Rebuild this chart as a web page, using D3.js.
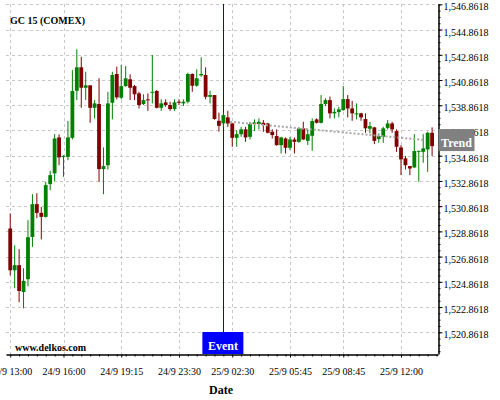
<!DOCTYPE html>
<html><head><meta charset="utf-8">
<script src="https://cdn.jsdelivr.net/npm/d3@7"></script>
<style>
body{margin:0;background:#fff}
svg{display:block}
text{font-family:"Liberation Serif","Times New Roman",serif}
</style>
</head><body>
<svg id="c" width="500" height="400"></svg>
<script>
const title = "GC 15 (COMEX)";
const opens = [1529.09,1525.78,1526.18,1524.06,1525.07,1528.42,1531.02,1530.33,1530.01,1532.61,
1533.46,1536.31,1534.75,1534.77,1536.28,1540.01,1541.87,1540.25,1540.44,1538.66,
1538.96,1533.80,1534.11,1539.06,1541.34,1539.46,1540.38,1540.92,1540.38,1539.80,
1538.96,1539.33,1539.85,1539.99,1538.66,1539.09,1538.88,1538.56,1539.14,1539.01,
1539.14,1541.34,1540.41,1541.23,1541.26,1539.53,1539.67,1537.63,1537.42,1537.90,
1537.42,1536.28,1536.57,1536.95,1536.36,1537.37,1537.37,1537.47,1537.42,1536.76,
1536.42,1535.70,1536.23,1535.49,1536.15,1535.96,1537.03,1536.04,1536.44,1537.74,
1537.47,1538.96,1539.27,1538.22,1538.32,1538.48,1539.35,1538.61,1538.14,1538.22,
1537.77,1537.00,1537.11,1536.18,1536.36,1537.07,1537.42,1536.81,1535.52,1534.65,
1534.04,1533.93,1535.17,1535.17,1535.36,1536.68];
const highs = [1530.28,1527.76,1527.45,1525.94,1529.75,1531.81,1531.89,1530.80,1532.79,1533.66,
1536.57,1536.55,1534.91,1537.61,1541.65,1543.30,1542.71,1541.52,1540.44,1539.27,
1541.00,1535.52,1539.93,1541.52,1541.92,1542.05,1541.97,1541.31,1540.46,1539.93,
1539.73,1539.80,1542.85,1540.07,1539.33,1539.33,1539.14,1539.33,1539.33,1539.33,
1541.44,1541.39,1541.71,1542.66,1541.87,1540.01,1539.67,1538.28,1538.27,1538.42,
1537.47,1536.89,1537.15,1537.15,1537.55,1537.74,1537.82,1537.69,1537.47,1536.95,
1536.95,1536.36,1536.31,1536.36,1536.31,1537.11,1537.55,1536.95,1537.82,1537.82,
1539.67,1539.41,1539.55,1538.61,1538.74,1540.38,1539.67,1539.22,1539.01,1538.27,
1538.22,1537.55,1537.15,1536.63,1537.15,1537.69,1537.55,1536.95,1535.70,1534.83,
1534.04,1536.57,1535.25,1536.57,1536.76,1537.11];
const lows = [1525.38,1524.35,1523.24,1522.76,1524.51,1527.63,1529.91,1528.22,1529.95,1532.13,
1532.84,1534.11,1533.19,1534.51,1536.15,1539.27,1538.66,1539.27,1537.47,1537.82,
1532.79,1531.81,1533.77,1537.74,1539.33,1539.33,1540.33,1539.27,1539.27,1538.61,
1538.88,1538.42,1539.01,1538.61,1538.42,1538.74,1538.42,1538.42,1538.88,1538.80,
1539.01,1539.93,1540.33,1541.12,1539.33,1539.01,1537.72,1536.77,1537.15,1537.15,
1535.57,1535.57,1536.36,1535.96,1536.15,1536.81,1536.95,1536.76,1536.63,1536.23,
1535.66,1535.04,1535.04,1535.31,1535.04,1535.88,1536.10,1535.70,1535.25,1537.42,
1537.42,1538.80,1537.82,1537.82,1537.90,1538.42,1537.90,1537.63,1537.74,1537.63,
1536.68,1536.63,1535.78,1535.88,1535.88,1536.95,1536.68,1535.17,1533.32,1533.77,
1533.32,1533.88,1532.79,1534.30,1533.58,1534.83];
const closes = [1525.78,1526.18,1524.14,1524.93,1528.40,1531.02,1530.33,1530.01,1532.53,1533.32,
1536.23,1534.73,1534.83,1536.31,1539.99,1541.87,1540.25,1540.44,1538.66,1539.01,
1533.80,1534.04,1539.01,1541.26,1539.49,1540.38,1541.00,1540.25,1539.73,1538.88,
1539.27,1539.27,1539.93,1538.66,1539.01,1538.88,1538.56,1539.09,1539.06,1539.14,
1541.34,1540.41,1541.00,1541.34,1539.53,1539.67,1537.77,1537.23,1538.08,1537.42,
1536.28,1536.57,1536.95,1536.31,1537.37,1537.50,1537.55,1537.29,1536.68,1536.50,
1535.70,1536.31,1535.49,1536.15,1535.96,1537.03,1536.15,1536.57,1537.61,1537.47,
1538.96,1539.27,1538.22,1538.34,1538.54,1539.35,1538.61,1538.22,1538.22,1537.90,
1537.03,1537.21,1536.04,1536.42,1537.03,1537.42,1536.95,1535.57,1534.57,1534.11,
1533.85,1535.23,1535.25,1535.44,1536.68,1535.62];
const xTickIndex = [0,12,25,38,50,63,75,88];
const xTickLabels = ["24/9 13:00","24/9 16:00","24/9 19:15","24/9 23:30","25/9 02:30","25/9 05:45","25/9 08:45","25/9 12:00"];
const yTicks = [1520.8618,1522.8618,1524.8618,1526.8618,1528.8618,1530.8618,1532.8618,1534.8618,1536.8618,1538.8618,1540.8618,1542.8618,1544.8618,1546.8618];
const eventIndex = 48;
const eventLabel = "Event";
const trendIdx = [49.5, 93.4];
const trendVal = [1537.55, 1536.10];
const trendLabel = "Trend";
const xTitle = "Date";
const watermark = "www.delkos.com";

const svg = d3.select("#c");
const L = 6, R = 438, T = 4, B = 354;
const n = opens.length;
const x = d3.scaleLinear().domain([-0.95, 96.33]).range([L, R]);
const y = d3.scaleLinear().domain([1519.14, 1546.89]).range([B, T]);
const bw = 3.8;

// grid
const grid = svg.append("g").attr("stroke","#c8c8c8").attr("stroke-dasharray","3,3").attr("stroke-width",1);
yTicks.forEach(v => grid.append("line").attr("x1",L).attr("x2",R).attr("y1",Math.round(y(v))+0.5).attr("y2",Math.round(y(v))+0.5));
xTickIndex.forEach(i => grid.append("line").attr("x1",Math.round(x(i))+0.5).attr("x2",Math.round(x(i))+0.5).attr("y1",T).attr("y2",B));

// event line
svg.append("line").attr("x1",Math.round(x(eventIndex))+0.5).attr("x2",Math.round(x(eventIndex))+0.5)
  .attr("y1",T).attr("y2",332).attr("stroke","#0000ff").attr("stroke-width",1);

// candles
const idx = d3.range(n);
const cg = svg.append("g");
idx.forEach(i => {
  const up = closes[i] >= opens[i];
  const col = up ? "#008000" : "#800000";
  const cx = x(i);
  cg.append("line").attr("x1",cx).attr("x2",cx).attr("y1",y(highs[i])).attr("y2",y(lows[i])).attr("stroke",col).attr("stroke-width",1);
  const top = y(Math.max(opens[i],closes[i])), bot = y(Math.min(opens[i],closes[i]));
  cg.append("rect").attr("x",cx-bw/2).attr("y",top).attr("width",bw).attr("height",Math.max(1,bot-top)).attr("fill",col);
});

// trend line
svg.append("line").attr("x1",x(trendIdx[0])).attr("y1",y(trendVal[0])).attr("x2",x(trendIdx[1])).attr("y2",y(trendVal[1]))
  .attr("stroke","#a8a8a8").attr("stroke-width",2).attr("stroke-dasharray","2,2");

// right axis
const fmt = d3.format(",.4f");
const ya = svg.append("g").attr("transform",`translate(${R+0.5},0)`)
  .call(d3.axisRight(y).tickValues(yTicks).tickSize(4).tickSizeOuter(0).tickFormat(fmt));
ya.selectAll("text").attr("x",5).attr("dy","0.55em").style("font-size","10px").style("font-family","'Liberation Serif',serif").attr("fill","#000");
const minor = [];
for (let v = 1519.3618; v < 1546.9; v += 0.5) minor.push(v);
svg.append("g").attr("transform",`translate(${R+0.5},0)`)
  .call(d3.axisRight(y).tickValues(minor).tickSize(2).tickSizeOuter(0).tickFormat(""))
  .select(".domain").remove();
ya.select(".domain").attr("stroke","#000").attr("stroke-width",1.5);

// bottom axis
const xa = svg.append("g").attr("transform",`translate(0,${B+0.5})`)
  .call(d3.axisBottom(x).tickValues(xTickIndex).tickSize(3).tickSizeOuter(0).tickFormat((d,i)=>xTickLabels[i]));
xa.selectAll("text").attr("y",13).attr("dy","0.71em").style("font-size","10px").style("font-family","'Liberation Serif',serif").attr("fill","#000");
xa.select(".domain").attr("stroke","#000").attr("stroke-width",1.5);
const xminor = [];
for (let i = 0; i < 97; i += 2) if (!xTickIndex.includes(i)) xminor.push(i);
svg.append("g").attr("transform",`translate(0,${B+0.5})`)
  .call(d3.axisBottom(x).tickValues(xminor).tickSize(2).tickSizeOuter(0).tickFormat(""))
  .select(".domain").remove();

// event box
const ex = x(eventIndex);
svg.append("rect").attr("x",ex-21).attr("y",332).attr("width",41).attr("height",22).attr("fill","#0000ff");
svg.append("text").attr("x",ex-0.5).attr("y",350).attr("text-anchor","middle").attr("fill","#fff")
  .style("font-size","12px").style("font-weight","bold").text(eventLabel);

// trend box
const ty = y(trendVal[1]);
svg.append("rect").attr("x",R+0.5).attr("y",ty-11).attr("width",36).attr("height",22).attr("fill","#808080");
svg.append("text").attr("x",R+18.5).attr("y",ty+7).attr("text-anchor","middle").attr("fill","#fff")
  .style("font-size","12px").style("font-weight","bold").text(trendLabel);

// texts
svg.append("text").attr("x",10).attr("y",24).style("font-size","10px").style("font-weight","bold").attr("fill","#000").text(title);
svg.append("text").attr("x",15).attr("y",351).style("font-size","10px").style("font-weight","bold").attr("fill","#000").text(watermark);
svg.append("text").attr("x",221).attr("y",394).attr("text-anchor","middle").style("font-size","12px").style("font-weight","bold").attr("fill","#000").text(xTitle);
</script>
</body></html>
